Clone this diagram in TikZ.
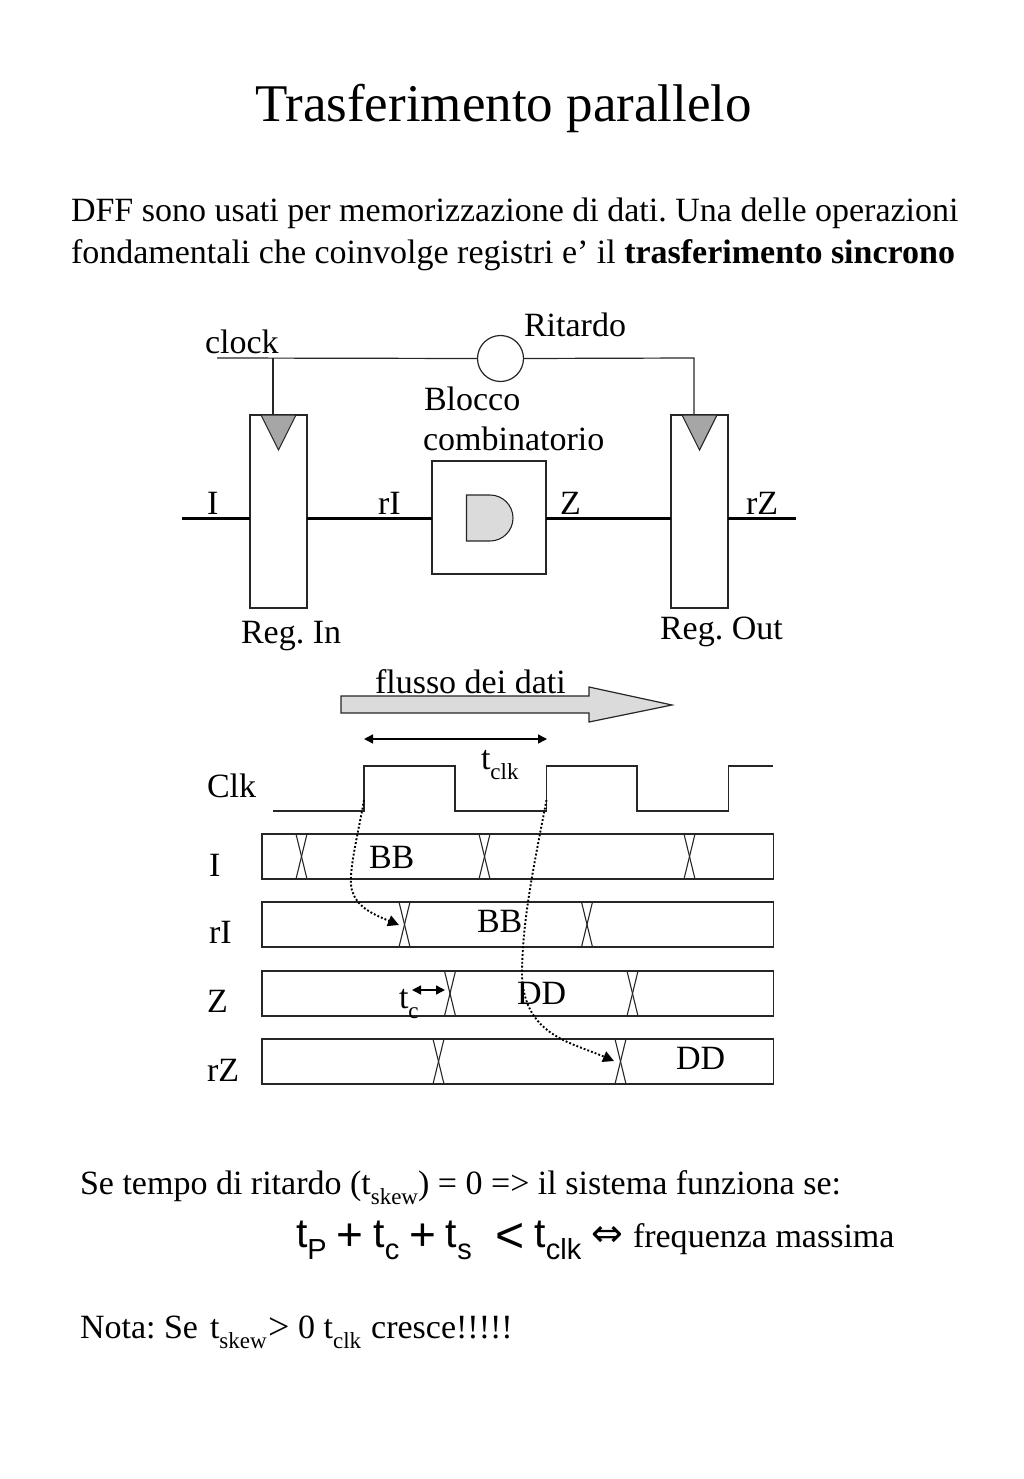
\documentclass[tikz,border=0pt]{standalone}
\usepackage{fontspec}
\setmainfont{Liberation Serif}
\newfontfamily\arialf{Liberation Sans}
\newfontfamily\dejaf{DejaVu Sans}
\usetikzlibrary{arrows.meta,calc}
\frenchspacing
\newcommand{\sbs}[1]{\raisebox{-0.3em}{\fontsize{23}{24}\selectfont #1}}
\newcommand{\fsbs}[1]{\raisebox{-0.3em}{\fontsize{29}{30}\selectfont #1}}
\newcommand{\bigop}[3]{\kern-1.5pt\raisebox{#3}{\fontsize{#1}{#1}\selectfont #2}\kern-1.5pt\relax}
\tikzset{
 txt/.style={inner sep=0pt,outer sep=0pt,anchor=base west,font=\fontsize{34}{40}\selectfont},
 ttl/.style={txt,font=\fontsize{53}{60}\selectfont},
 frm/.style={txt,font=\arialf\fontsize{41}{46}\selectfont},
 box/.style={draw=black!85,line width=1.2pt,inner sep=0pt,outer sep=0pt,fill=white},
 wire/.style={draw=black!85,line width=1.2pt},
 bus/.style={draw=black,line width=3pt},
 clktri/.style={draw=black!85,line width=1.1pt,fill=black!35},
 wave/.style={draw=black!85,line width=1.4pt,line join=miter},
 xing/.style={draw=black!85,line width=1.1pt},
 dim/.style={draw=black,line width=1.4pt,{Triangle[length=9pt,width=9pt]}-{Triangle[length=9pt,width=9pt]}},
 dly/.style={draw=black,line width=1.9pt,dash pattern=on 1.9pt off 2pt,-{Triangle[length=11pt,width=11pt,fill=black,sep=0pt]}},
}
\begin{document}
\begin{tikzpicture}[x=1pt,y=-1pt]
\useasboundingbox (0,0) rectangle (1024,1479);
% texts
\node[ttl] (title) at (255,122) {Trasferimento parallelo};
\node[txt] (p1) at (71,222) {DFF sono usati per memorizzazione di dati. Una delle operazioni};
\node[txt] (p2) at (71,263) {fondamentali che coinvolge registri e’ il \textbf{trasferimento sincrono}};
% upper schematic
\node[box,minimum width=57pt,minimum height=193pt] (regin) at (278.5,511.5) {};
\node[box,minimum width=57pt,minimum height=193pt] (regout) at (699.5,511.5) {};
\node[box,minimum width=114pt,minimum height=113pt] (block) at (489,517.5) {};
\node[box,circle,minimum size=46pt] (delay) at (500.5,358.5) {};
\coordinate (clkstart) at (217,358);
\coordinate (tapin) at (273,358);
\coordinate (tapout) at (694,358);
\draw[wire] (clkstart) -- (delay.west);
\draw[wire] (delay.east) -- (tapout) -- (tapout |- regout.north);
\draw[wire] (tapin) -- (tapin |- regin.north);
\draw[clktri] (261,415) -- (296,415) -- (278.5,450) -- cycle;
\draw[clktri] (682,415) -- (717,415) -- (699.5,450) -- cycle;
\coordinate (busin) at (182,518);
\coordinate (busout) at (796,518);
\draw[bus] (busin) -- (busin -| regin.west);
\draw[bus] (regin.east |- busin) -- (block.west |- busin);
\draw[bus] (block.east |- busin) -- (regout.west |- busin);
\draw[bus] (regout.east |- busin) -- (busout);
\draw[draw=black!85,line width=1.1pt,fill=black!14] (466.5,495) -- (490,495) arc[start angle=90,end angle=-90,radius=23pt] -- (466.5,541) -- cycle;
\node[txt] (lclock) at (205,353) {clock};
\node[txt] (lrit) at (524,336) {Ritardo};
\node[txt] (lblo) at (424,410) {Blocco};
\node[txt] (lcom) at (423,450) {combinatorio};
\node[txt] (li) at (207,514) {I};
\node[txt] (lri) at (378,514) {rI};
\node[txt] (lz) at (560,514) {Z};
\node[txt] (lrz) at (746,514) {rZ};
\node[txt] (lregin) at (241,643) {Reg. In};
\node[txt] (lregout) at (660,639) {Reg. Out};
% flow arrow
\draw[draw=black!85,line width=1.2pt,fill=black!14] (341,696) -- (589,696) -- (589,687) -- (672,705) -- (589,722) -- (589,713) -- (341,713) -- cycle;
\node[txt] (lflusso) at (375,693) {flusso dei dati};
% clock wave
\coordinate (e1) at (364,766);
\coordinate (e2) at (546.5,766);
\draw[wave] (273,811) -- (364,811) -- (e1) -- (455,766) -- (455,811) -- (546.5,811) -- (e2) -- (637,766) -- (637,811) -- (728.5,811) -- (728.5,766) -- (773,766);
\draw[dim] (364,739) -- (547,739);
\node[txt] (ltclk) at (481,769) {t\sbs{clk}};
\node[txt] (lClk) at (207,797) {Clk};
% rows
\foreach \n/\c in {ra/856.5,rb/924.5,rc/993.5,rd/1061.5}
  \node[box,fill=none,minimum width=511.5pt,minimum height=45pt] (\n) at (517.75,\c) {};
\foreach \n/\x in {ra/301.5,ra/484.5,ra/689.5,rb/404.5,rb/587,rc/450,rc/632.5,rd/438.5,rd/620.5}{
  \draw[xing] (\x-5.5,0 |- \n.north) -- (\x+5.5,0 |- \n.south);
  \draw[xing] (\x+5.5,0 |- \n.north) -- (\x-5.5,0 |- \n.south);
}
\node[txt] (l1) at (209,876) {I};
\node[txt] (l2) at (209,943) {rI};
\node[txt] (l3) at (207,1012) {Z};
\node[txt] (l4) at (207,1081) {rZ};
\node[txt] (bb1) at (369,868) {BB};
\node[txt] (bb2) at (477,932) {BB};
\node[txt] (dd1) at (517,1004) {DD};
\node[txt] (dd2) at (676,1069) {DD};
\node[txt] (ltc) at (399,1008) {t\sbs{c}};
\coordinate (tcl) at (412,990);
\coordinate (tcr) at (445,990);
\draw[dim] (tcl) -- (tcr);
% delay arrows
\coordinate (d1) at (399,925);
\coordinate (d2) at (614,1061);
\draw[dly] ($(e1)+(0,34)$) .. controls (358,835) and (346,880) .. (353,893) .. controls (358,908) and (375,915) .. (d1);
\draw[dly] ($(e2)+(0,34)$) .. controls (535,860) and (522,920) .. (522,975) .. controls (524,1035) and (570,1042) .. (d2);
% bottom text
\node[txt] (s1) at (80,1194) {Se tempo di ritardo (t\sbs{skew}) = 0 => il sistema funziona se:};
\node[frm] (form) at (296,1247) {t\fsbs{P} \bigop{46}{+}{-3pt} t\fsbs{c} \bigop{46}{+}{-3pt} t\fsbs{s}\,\, \bigop{50}{<}{-5pt} t\fsbs{clk}};
\node[txt,font=\dejaf\fontsize{38}{40}\selectfont] (iff) at (591,1246) {⇔};
\node[txt] (freq) at (633,1247) {frequenza massima};
\node[txt] (nota) at (80,1338) {Nota: Se};
\node[txt] (nota2) at (210,1338) {t\sbs{skew}\kern1.5pt\raisebox{-1pt}{\fontsize{38}{40}\selectfont >} 0 t\sbs{clk}\kern1.5pt\relax{} cresce!!!!!};
\end{tikzpicture}
\end{document}
